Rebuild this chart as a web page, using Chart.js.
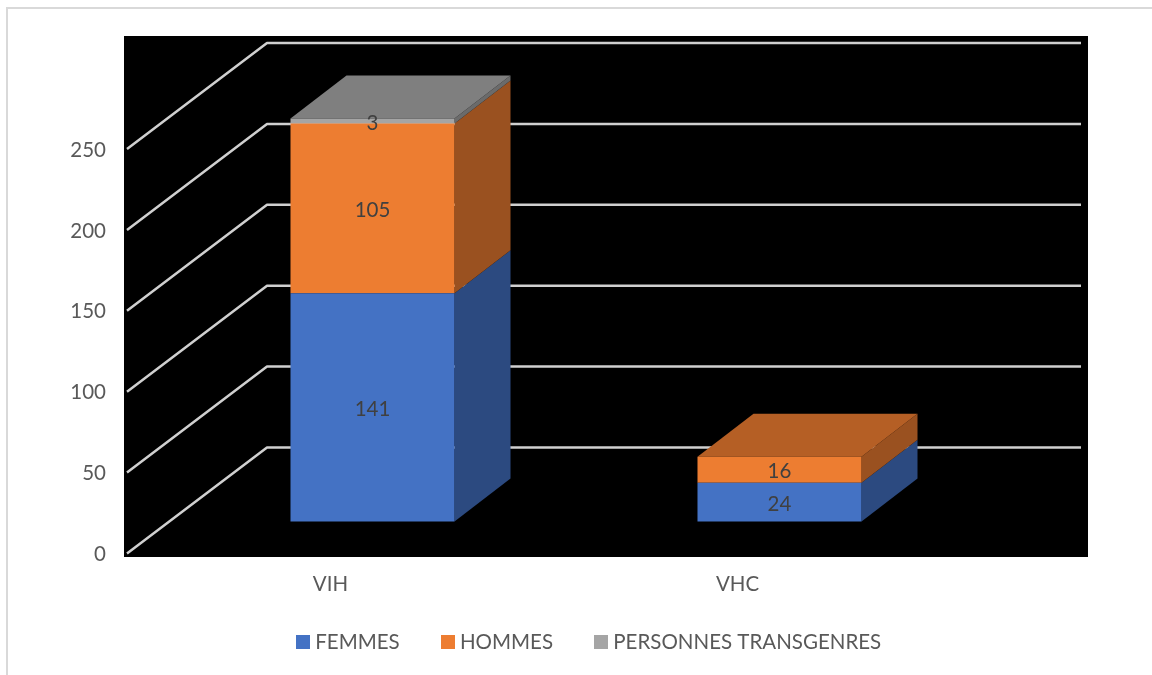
<!DOCTYPE html>
<html>
<head>
<meta charset="utf-8">
<style>html,body{margin:0;padding:0;background:#fff}#w{width:1152px;height:675px}</style>
<script src="https://cdn.jsdelivr.net/npm/chart.js@4"></script>
</head>
<body>
<div id="w"><canvas id="c" width="1152" height="675"></canvas></div>
<script>
const categories = ['VIH', 'VHC'];
const femmes = [141, 24];
const hommes = [105, 16];
const transgenres = [3, 0];
const seriesNames = ['FEMMES', 'HOMMES', 'PERSONNES TRANSGENRES'];
const frontColors = ['#4472C4', '#ED7D31', '#A5A5A5'];
const sideColors = ['#2C4A80', '#9A5120', '#6B6B6B'];
const topColors = ['#35599A', '#B55F25', '#7F7F7F'];
const yTicks = [0, 50, 100, 150, 200, 250];

const WALL = {dx: 140, dy: -106};
const BAR_SHIFT = {dx: 42, dy: -32};
const BAR_DEPTH = {dx: 56, dy: -43};
const FONT = 'Lato, "Open Sans", sans-serif';
const FONT_SIZE = 20.5;

function swatch(color) {
  const s = document.createElement('canvas');
  s.width = 14; s.height = 14;
  const g = s.getContext('2d');
  g.fillStyle = color; g.fillRect(0, 0, 14, 14);
  return s;
}
const swatches = frontColors.map(swatch);

function poly(ctx, pts, fill) {
  ctx.fillStyle = fill;
  ctx.beginPath();
  pts.forEach((p, i) => i ? ctx.lineTo(p[0], p[1]) : ctx.moveTo(p[0], p[1]));
  ctx.closePath();
  ctx.fill();
}

const scene = {
  id: 'scene',
  afterLayout(chart) {
    const lg = chart.legend;
    lg.left = 301 - 46;
    lg.top = 586;
    chart.scales.y.getLabelItems(chart.chartArea).forEach(it => { it.options.translation[1] += 1; });
  },
  beforeDraw(chart) {
    const {ctx} = chart;
    ctx.save();
    ctx.fillStyle = '#fff';
    ctx.fillRect(0, 0, chart.width, chart.height);
    ctx.strokeStyle = '#D9D9D9';
    ctx.lineWidth = 2;
    ctx.beginPath();
    ctx.moveTo(7, 675); ctx.lineTo(7, 8); ctx.lineTo(1152, 8);
    ctx.stroke();
    ctx.fillStyle = '#000';
    ctx.fillRect(124, 36, 964, 521);
    ctx.restore();
  },
  beforeDatasetsDraw(chart) {
    const {ctx, chartArea: a, scales} = chart;
    ctx.save();
    ctx.strokeStyle = '#D0D0D0';
    ctx.lineWidth = 2.5;
    ctx.lineJoin = 'round';
    scales.y.ticks.forEach(t => {
      const y = scales.y.getPixelForValue(t.value);
      ctx.beginPath();
      ctx.moveTo(a.left, y);
      ctx.lineTo(a.left + WALL.dx, y + WALL.dy);
      ctx.lineTo(a.right + WALL.dx, y + WALL.dy);
      ctx.stroke();
    });
    ctx.restore();

    ctx.save();
    ctx.translate(BAR_SHIFT.dx, BAR_SHIFT.dy);
    const metas = chart.getSortedVisibleDatasetMetas();
    categories.forEach((_, i) => {
      let topIdx = -1;
      metas.forEach((m, d) => {
        if (chart.data.datasets[d].data[i] > 0) topIdx = d;
      });
      metas.forEach((m, d) => {
        if (chart.data.datasets[d].data[i] <= 0) return;
        const b = m.data[i].getProps(['x', 'y', 'base', 'width'], true);
        const r = b.x + b.width / 2;
        poly(ctx, [[r, b.y], [r + BAR_DEPTH.dx, b.y + BAR_DEPTH.dy],
                   [r + BAR_DEPTH.dx, b.base + BAR_DEPTH.dy], [r, b.base]], sideColors[d]);
      });
      const m = metas[topIdx];
      const b = m.data[i].getProps(['x', 'y', 'base', 'width'], true);
      const l = b.x - b.width / 2, r = b.x + b.width / 2;
      poly(ctx, [[l, b.y], [l + BAR_DEPTH.dx, b.y + BAR_DEPTH.dy],
                 [r + BAR_DEPTH.dx, b.y + BAR_DEPTH.dy], [r, b.y]], topColors[topIdx]);
    });
    // front faces are drawn by the library inside this shifted frame
  },
  afterDatasetsDraw(chart) {
    const {ctx} = chart;
    ctx.fillStyle = '#404040';
    ctx.font = FONT_SIZE + 'px ' + FONT;
    ctx.textAlign = 'center';
    ctx.textBaseline = 'middle';
    chart.getSortedVisibleDatasetMetas().forEach((m, d) => {
      m.data.forEach((el, i) => {
        const v = chart.data.datasets[d].data[i];
        if (v <= 0) return;
        const b = el.getProps(['x', 'y', 'base'], true);
        ctx.fillText(String(v), b.x, (b.y + b.base) / 2 + 2);
      });
    });
    ctx.restore();
  }
};

new Chart(document.getElementById('c'), {
  type: 'bar',
  data: {
    labels: categories,
    datasets: [femmes, hommes, transgenres].map((data, i) => ({
      label: seriesNames[i],
      data,
      backgroundColor: frontColors[i],
      borderWidth: 0,
      clip: false,
      categoryPercentage: 1,
      barPercentage: 0.403
    }))
  },
  plugins: [scene],
  options: {
    responsive: false,
    animation: false,
    devicePixelRatio: 1,
    layout: {autoPadding: false, padding: {left: 0, top: 149, right: 211, bottom: 0}},
    plugins: {
      tooltip: {enabled: false},
      title: {display: false},
      legend: {
        position: 'bottom',
        align: 'start',
        maxHeight: 80,
        labels: {
          usePointStyle: true,
          pointStyleWidth: 4,
          padding: 46,
          color: '#595959',
          font: {family: FONT, size: FONT_SIZE},
          generateLabels(chart) {
            return Chart.defaults.plugins.legend.labels.generateLabels(chart)
              .map((it, i) => Object.assign(it, {pointStyle: swatches[i]}));
          }
        }
      }
    },
    scales: {
      x: {
        stacked: true,
        grid: {display: false},
        border: {display: false},
        ticks: {color: '#595959', font: {family: FONT, size: FONT_SIZE}, padding: 11, maxRotation: 0},
        afterFit(s) { s.height = 45; }
      },
      y: {
        stacked: true,
        min: 0,
        max: 250,
        grid: {display: false},
        border: {display: false},
        afterBuildTicks(s) { s.ticks = yTicks.map(value => ({value})); },
        ticks: {color: '#595959', font: {family: FONT, size: FONT_SIZE}, padding: 13},
        afterFit(s) { s.width = 127; }
      }
    }
  }
});
</script>
</body>
</html>
